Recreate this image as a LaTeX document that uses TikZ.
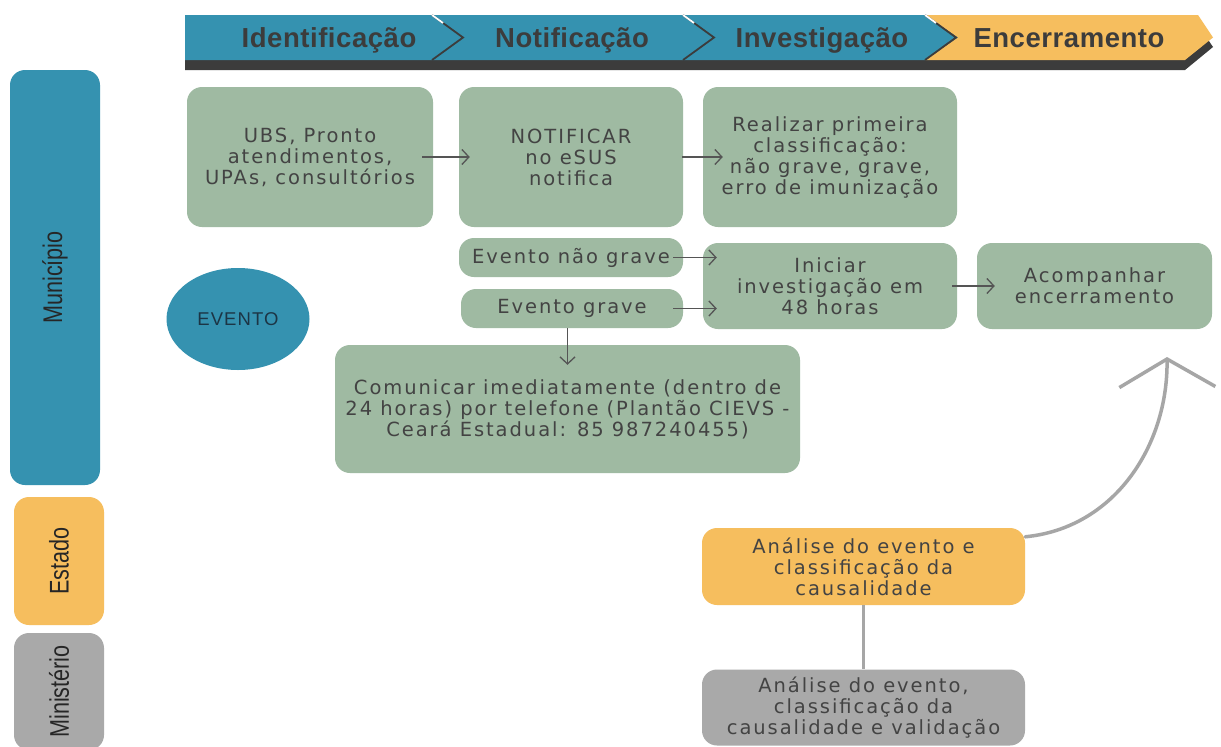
\documentclass[tikz,border=0pt]{standalone}
\usepackage{fontspec}
\usetikzlibrary{arrows.meta,shapes.geometric}
\newfontfamily\boxfont{DejaVu Sans}[LetterSpace=10]
\newfontfamily\headfont{Liberation Sans}[LetterSpace=2]
\newfontfamily\lanefont{Liberation Sans}[FakeStretch=0.8]
\newfontfamily\evfont{Liberation Sans}[LetterSpace=6]
\definecolor{cTeal}{HTML}{3592B0}
\definecolor{cYellow}{HTML}{F6BE5E}
\definecolor{cGray}{HTML}{A9A9A9}
\definecolor{cGreen}{HTML}{9FBAA2}
\definecolor{cShadow}{HTML}{3C3C3C}
\definecolor{cText}{HTML}{434343}
\definecolor{cArrow}{HTML}{555555}
\definecolor{cCurve}{HTML}{A6A6A6}
\definecolor{cEvText}{HTML}{1C3545}
\tikzset{
  gbox/.style={fill=cGreen, rounded corners=15pt, inner sep=0pt, align=center,
    font=\boxfont\fontsize{19.5}{21}\selectfont, text=cText},
  lanebox/.style={rounded corners=15pt, inner sep=0pt, rotate=90,
    font=\lanefont\fontsize{27}{30}\selectfont, text=black!85},
  headtxt/.style={font=\headfont\bfseries\fontsize{27.5}{30}\selectfont, text=cShadow, inner sep=0pt, anchor=base},
  arr/.style={draw=cArrow, line width=1.3pt, -{Straight Barb[length=7pt,width=15pt]}},
}
\begin{document}
\begin{tikzpicture}[x=1pt,y=-1pt]
\useasboundingbox (0,0) rectangle (1221,747);
\fill[white] (0,0) rectangle (1221,747);
% header band
\fill[cShadow] (185,25) -- (1198,25) -- (1213,47) -- (1185,70) -- (185,70) -- cycle;
\fill[cTeal] (185,15) -- (925,15) -- (958,37.5) -- (925,60) -- (185,60) -- cycle;
\fill[cYellow] (925,15) -- (1198,15) -- (1213,37.5) -- (1185,60) -- (925,60) -- (958,37.5) -- cycle;
\foreach \sx in {432,683,925}{
  \draw[cShadow, line width=1.8pt] (\sx,15) -- (\sx+31,37.5) -- (\sx,60);
  \draw[white, line width=1.8pt] (\sx,15) -- (\sx+11,23);
}
\node[headtxt] (h1) at (329,47) {Identificação};
\node[headtxt] (h2) at (572,47) {Notificação};
\node[headtxt] (h3) at (822,47) {Investigação};
\node[headtxt] (h4) at (1069,47) {Encerramento};
% lanes
\node[lanebox, fill=cTeal, minimum width=415pt, minimum height=90pt] (mun) at (55,277.5) {Município};
\node[lanebox, fill=cYellow, minimum width=128pt, minimum height=90pt] (est) at (59,561) {Estado};
\node[lanebox, fill=cGray, minimum width=117pt, minimum height=90pt] (min) at (59,691.5) {Ministério};
% event
\node[ellipse, fill=cTeal, minimum width=143pt, minimum height=102pt, inner sep=0pt,
  font=\evfont\fontsize{18.5}{22}\selectfont, text=cEvText] (ev) at (238,319) {EVENTO};
% boxes
\node[gbox, minimum width=246pt, minimum height=140pt] (b1) at (310,157) {UBS, Pronto\\atendimentos,\\UPAs, consultórios};
\node[gbox, minimum width=224pt, minimum height=140pt] (b2) at (571,157) {NOTIFICAR\\no eSUS\\notifica};
\node[gbox, minimum width=254pt, minimum height=140pt] (b3) at (830,157) {Realizar primeira\\classificação:\\não grave, grave,\\erro de imunização};
\node[gbox, minimum width=224pt, minimum height=39pt] (b4) at (571,257.5) {Evento não grave};
\node[gbox, minimum width=222pt, minimum height=39pt] (b5) at (572,308.5) {Evento grave};
\node[gbox, minimum width=254pt, minimum height=86pt] (b6) at (830,286) {Iniciar\\investigação em\\48 horas};
\node[gbox, minimum width=235pt, minimum height=86pt] (b7) at (1094.5,286) {Acompanhar\\encerramento};
\node[gbox, minimum width=465pt, minimum height=128pt] (b8) at (567.5,409) {Comunicar imediatamente (dentro de\\24 horas) por telefone (Plantão CIEVS -\\Ceará Estadual: 85 987240455)};
\node[gbox, fill=cYellow, minimum width=323pt, minimum height=77pt] (b9) at (863.5,566.5) {Análise do evento e\\classificação da\\causalidade};
\node[gbox, fill=cGray, minimum width=323pt, minimum height=76pt] (b10) at (863.5,707.5) {Análise do evento,\\classificação da\\causalidade e validação};
% connectors
\draw[arr] ([xshift=-11pt]b1.east) -- ([xshift=11pt]b2.west);
\draw[arr] ([xshift=-1pt]b2.east) -- ([xshift=20pt]b3.west);
\coordinate (t4) at ([xshift=14pt]b6.west |- b4.east);
\coordinate (t5) at ([xshift=14pt]b6.west |- b5.east);
\draw[arr] ([xshift=-10pt]b4.east) -- (t4);
\draw[arr] ([xshift=-10pt]b5.east) -- (t5);
\draw[arr] ([xshift=-5pt]b6.east) -- ([xshift=18pt]b7.west);
\draw[arr] (b5.south -| b8.north) -- ([yshift=-20pt]b8.north);
\draw[cCurve, line width=3pt] (b9.south) -- (b10.north);
\coordinate (tip) at (1167,357);
\draw[cCurve, line width=3.5pt, line cap=round, -{Straight Barb[length=28pt,width=96pt]}]
  ([yshift=-9pt]b9.north east) .. controls (1115,528) and (1168,445) .. (tip);
\end{tikzpicture}
\end{document}
